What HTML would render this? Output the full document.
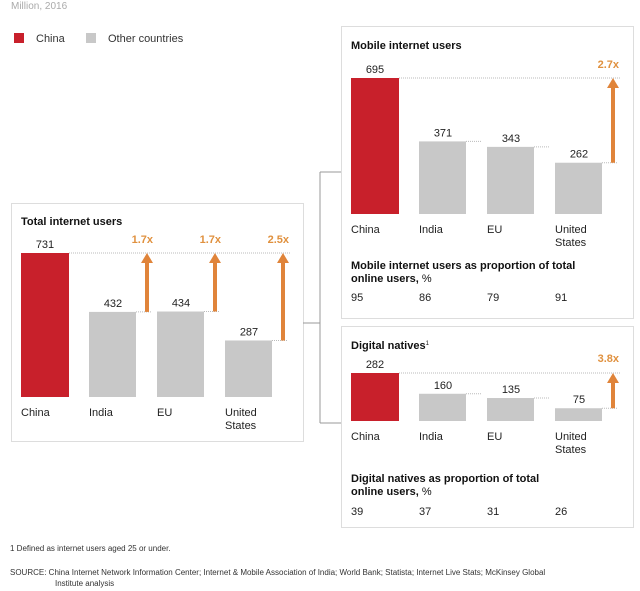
<!DOCTYPE html>
<html><head><meta charset="utf-8"><style>
body{margin:0;background:#fff;}
svg{display:block;font-family:"Liberation Sans",Arial,sans-serif;}
</style></head><body>
<svg id="c" width="640" height="591" viewBox="0 0 640 591">
<text x="11" y="9" font-size="10" fill="#aaa">Million, 2016</text>
<rect x="14" y="33" width="10" height="10" fill="#c8202b"/>
<text x="36" y="42" font-size="11" fill="#333">China</text>
<rect x="86" y="33" width="10" height="10" fill="#c8c8c8"/>
<text x="108" y="42" font-size="11" fill="#333">Other countries</text>
<rect x="11.5" y="203.5" width="292" height="238" fill="none" stroke="#ddd"/>
<rect x="341.5" y="26.5" width="292" height="292" fill="none" stroke="#ddd"/>
<rect x="341.5" y="326.5" width="292" height="201" fill="none" stroke="#ddd"/>
<path d="M303 323H320M320 172V423M320 172H341M320 423H341" stroke="#999" fill="none"/>
<text x="21" y="225" font-size="11" font-weight="bold" fill="#111">Total internet users</text>
<text x="351" y="49" font-size="11" font-weight="bold" fill="#111">Mobile internet users</text>
<text x="351" y="349" font-size="11" font-weight="bold" fill="#111">Digital natives<tspan font-size="6" dy="-4" font-weight="normal">1</tspan></text>
<text x="351" y="269" font-size="11" font-weight="bold" fill="#111"><tspan x="351">Mobile internet users as proportion of total</tspan><tspan x="351" dy="13">online users, <tspan font-weight="normal">%</tspan></tspan></text>
<text x="351" y="482" font-size="11" font-weight="bold" fill="#111"><tspan x="351">Digital natives as proportion of total</tspan><tspan x="351" dy="13">online users, <tspan font-weight="normal">%</tspan></tspan></text>
<text x="10" y="551" font-size="8" fill="#333">1  Defined as internet users aged 25 or under.</text>
<text x="10" y="575" font-size="8" fill="#333">SOURCE:  China Internet Network Information Center; Internet &amp; Mobile Association of India; World Bank; Statista; Internet Live Stats; McKinsey Global</text>
<text x="55" y="586" font-size="8" fill="#333">Institute analysis</text>
</svg>
<script>
const categories=["China","India","EU","United States"];
const totalValues=[731,432,434,287];
const totalMultiples=["","1.7x","1.7x","2.5x"];
const mobileValues=[695,371,343,262];
const mobileMultiples=["2.7x"];
const mobileShares=[95,86,79,91];
const digitalValues=[282,160,135,75];
const digitalMultiples=["3.8x"];
const digitalShares=[39,37,31,26];

const svg=document.getElementById('c');
const NS='http://www.w3.org/2000/svg';
function mk(tag,a){const e=document.createElementNS(NS,tag);for(const k in a)e.setAttribute(k,a[k]);svg.appendChild(e);return e;}
function txt(x,y,s,a){const e=mk('text',Object.assign({x:x,y:y,'font-size':11,fill:'#222'},a||{}));e.textContent=s;return e;}
function arrow(x,y1,y2,label,ly){
  const l=mk('line',{x1:x,x2:x,y1:y1,y2:y2+7,stroke:'#e0843a','stroke-width':4});
  
  
  const h=mk('path',{d:`M${x-6} ${y2+10}L${x} ${y2}L${x+6} ${y2+10}Z`,fill:'#e0843a'});
  
  
  const t=txt(x+6,ly,label,{fill:'#e0913f','font-weight':'bold','text-anchor':'end'});
  
  
}
function panel(name,x0,base,hMax,vals,labelY){
  const scale=v=>v*hMax/vals[0];
  const xs=i=>x0+i*68;
  const top=base-scale(vals[0]);
  const g=mk('line',{x1:xs(0)+48,x2:xs(3)+66,y1:top,y2:top,stroke:'#bbb','stroke-dasharray':'1 1'});
  
  
  vals.forEach((v,i)=>{
    const y=base-scale(v);
    const r=mk('rect',{x:xs(i),y:y,width:i==0?48:47,height:scale(v),fill:i==0?'#c8202b':'#c8c8c8'});
    
    
    const t=txt(xs(i)+24,y-5,String(v),{'text-anchor':'middle'});
    
    
    if(i>0){const d=mk('line',{x1:xs(i)+47,x2:xs(i)+62,y1:y,y2:y,stroke:'#bbb','stroke-dasharray':'1 1'});
      
      }
    const parts=categories[i]=="United States"?["United","States"]:[categories[i]];
    parts.forEach((p,k)=>{const c=txt(xs(i),labelY+k*13,p);
      
      });
  });
  return {scale,xs,top};
}
const T=panel('total',21,397,144,totalValues,416);
[1,2,3].forEach(i=>arrow(T.xs(i)+58,397-T.scale(totalValues[i]),T.top,totalMultiples[i],243));
const M=panel('mobile',351,214,136,mobileValues,233);
arrow(M.xs(3)+58,214-M.scale(mobileValues[3]),M.top,mobileMultiples[0],68);
mobileShares.forEach((v,i)=>{const t=txt(M.xs(i),301,String(v));
  
  });
const D=panel('digital',351,421,48,digitalValues,440);
arrow(D.xs(3)+58,421-D.scale(digitalValues[3]),D.top,digitalMultiples[0],362);
digitalShares.forEach((v,i)=>{const t=txt(D.xs(i),515,String(v));
  
  });
</script>
</body></html>
